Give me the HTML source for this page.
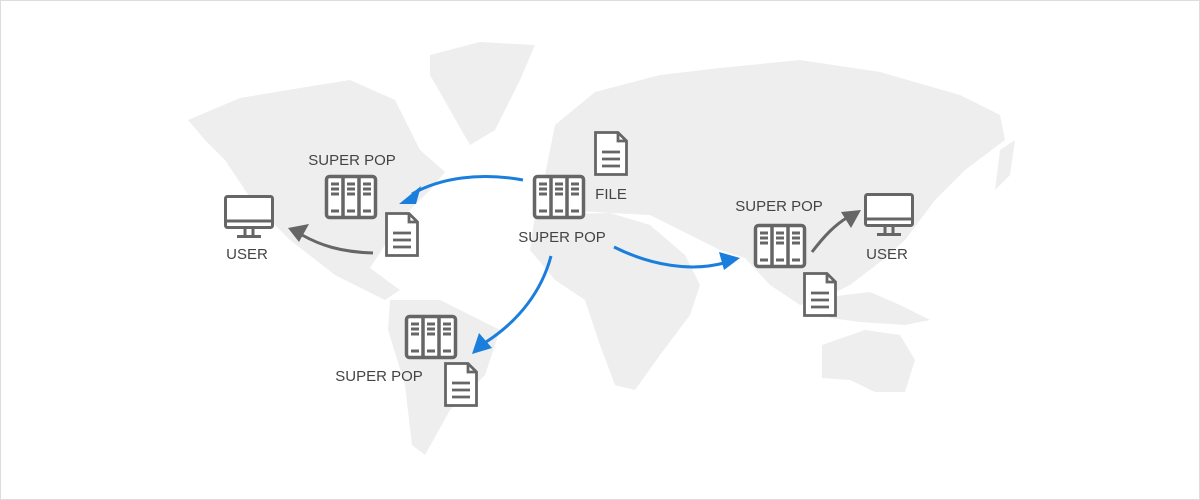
<!DOCTYPE html>
<html><head><meta charset="utf-8"><style>
html,body{margin:0;padding:0;background:#fff}
svg{display:block}
text{font-family:"Liberation Sans",sans-serif;font-size:15px;fill:#444;text-anchor:middle}
</style></head><body>
<svg width="1200" height="500" viewBox="0 0 1200 500" xmlns="http://www.w3.org/2000/svg">
<defs>
<g id="srv" fill="none" stroke="#666">
<rect x="1.5" y="1.5" width="49" height="41" rx="3" stroke-width="3.5" fill="#fff"/>
<path d="M18 2V42M34 2V42" stroke-width="3.5"/>
<path d="M6 9h8M6 14h8M6 19h8M22 9h8M22 14h8M22 19h8M38 9h8M38 14h8M38 19h8M6 36h8M22 36h8M38 36h8" stroke-width="3"/>
</g>
<g id="doc" fill="#fff" stroke="#666" stroke-width="2.8">
<path d="M1.5 1.5H24L32.5 10V43.5H1.5Z"/>
<path d="M24 1.5V10H32.5" fill="none"/>
<path d="M8 21h18M8 28h18M8 35h18" fill="none"/>
</g>
<g id="mon" fill="none" stroke="#666" stroke-width="3">
<rect x="1.5" y="1.5" width="47" height="31" rx="2" fill="#fff"/>
<path d="M2 26H48"/>
<path d="M21 33V40M29 33V40M13 41.5H37"/>
</g>
</defs>
<rect x="0.5" y="0.5" width="1199" height="499" fill="#fff" stroke="#ddd"/>
<g fill="#eeeeee">
<path d="M188 120L240 98L300 88L350 80L395 100L420 150L445 172L430 190L405 215L385 245L370 268L400 290L385 300L335 275L290 240L255 205L225 160L205 140Z"/>
<path d="M430 55L480 42L535 45L520 80L495 130L470 145L450 110L430 75Z"/>
<path d="M390 300L440 300L500 330L485 375L450 410L425 455L412 445L405 385L388 330Z"/>
<path d="M555 125L595 92L660 75L720 68L800 60L880 72L960 95L1000 115L1005 140L965 170L935 200L905 240L880 262L850 285L820 300L800 305L770 285L745 258L720 250L690 235L650 215L610 213L565 210L545 175Z"/>
<path d="M535 215L610 213L650 225L685 255L700 285L690 315L660 355L635 390L615 385L600 345L585 300L555 280L530 250Z"/>
<path d="M820 298L870 292L900 305L930 320L905 325L860 322L830 318Z"/>
<path d="M822 345L865 330L900 335L915 360L905 392L875 392L850 380L822 378Z"/>
<path d="M1000 150L1015 140L1010 175L995 190Z"/>
</g>
<g fill="none" stroke-width="3">
<path d="M523 180C480 172 440 178 412 194" stroke="#1a7fdc"/>
<path d="M551 256C542 290 520 320 486 342" stroke="#1a7fdc"/>
<path d="M614 247C650 265 690 272 724 263" stroke="#1a7fdc"/>
<path d="M373 253C340 252 320 245 302 235" stroke="#666"/>
<path d="M812 252C825 235 835 225 848 217" stroke="#666"/>
</g>
<polygon points="399,204 421,186 416,204" fill="#1a7fdc"/>
<polygon points="472,354 479,333 492,348" fill="#1a7fdc"/>
<polygon points="740,258 719,252 724,270" fill="#1a7fdc"/>
<polygon points="288,228 309,224 299,242" fill="#666"/>
<polygon points="861,210 841,212 851,228" fill="#666"/>
<use href="#srv" x="533" y="175"/>
<use href="#doc" x="594" y="131"/>
<text x="611" y="199">FILE</text>
<text x="562" y="242">SUPER POP</text>
<use href="#srv" x="325" y="175"/>
<text x="352" y="165">SUPER POP</text>
<use href="#doc" x="385" y="212"/>
<use href="#mon" x="224" y="195"/>
<text x="247" y="259">USER</text>
<use href="#srv" x="405" y="315"/>
<text x="379" y="381">SUPER POP</text>
<use href="#doc" x="444" y="362"/>
<use href="#srv" x="754" y="224"/>
<text x="779" y="211">SUPER POP</text>
<use href="#doc" x="803" y="272"/>
<use href="#mon" x="864" y="193"/>
<text x="887" y="259">USER</text>
</svg>
</body></html>
